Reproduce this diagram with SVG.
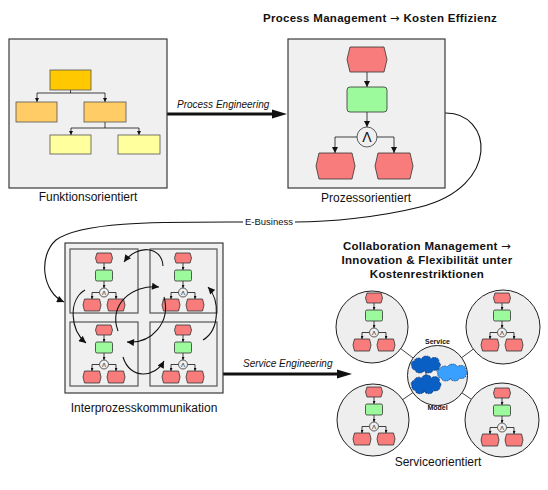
<svg xmlns="http://www.w3.org/2000/svg" xmlns:xlink="http://www.w3.org/1999/xlink" width="548" height="490" viewBox="0 0 548 490">
<style>
text{font-family:"Liberation Sans","DejaVu Sans",sans-serif;fill:#111}
.lbl{font-size:12px;text-anchor:middle}
.ttl{font-size:11.5px;font-weight:bold;text-anchor:middle;letter-spacing:0.3px}
.arr{font-family:"DejaVu Sans",sans-serif;font-weight:normal}
.it{font-size:10px;font-style:italic}
.box{fill:#f0f0f0;stroke:#3a3a3a;stroke-width:1.2}
.q{fill:#f0f0f0;stroke:#555;stroke-width:1.2}
.ev{fill:#f87c7c;stroke:#333;stroke-width:0.8}
.fn{fill:#9cf99c;stroke:#333;stroke-width:0.8}
.op{fill:#f0f0f0;stroke:#333;stroke-width:0.8}
.ln{fill:none;stroke:#111;stroke-width:0.8}
.cv{fill:none;stroke:#111;stroke-width:1.1}
.sc{fill:#eeeeee;stroke:#222;stroke-width:1}
.cl1{fill:#0a5fc4;stroke:#0a2a60;stroke-width:0.6;stroke-dasharray:1.5 0.8}
.cl2{fill:#3aa0ff;stroke:#0a2a60;stroke-width:0.6;stroke-dasharray:1.5 0.8}
</style>
<defs>
<marker id="a1" viewBox="0 0 10 10" refX="10" refY="5" markerWidth="4" markerHeight="4" markerUnits="userSpaceOnUse" orient="auto"><path d="M0,0 L10,5 L0,10 z" fill="#111"/></marker>
<marker id="a2" viewBox="0 0 10 10" refX="10" refY="5" markerWidth="7" markerHeight="6" markerUnits="userSpaceOnUse" orient="auto"><path d="M0,0 L10,5 L0,10 z" fill="#111"/></marker>
<marker id="a3" viewBox="0 0 10 10" refX="10" refY="5" markerWidth="8" markerHeight="7" markerUnits="userSpaceOnUse" orient="auto"><path d="M0,0 L10,5 L0,10 z" fill="#111"/></marker>
<marker id="a4" viewBox="0 0 10 10" refX="10" refY="5" markerWidth="3.5" markerHeight="3" markerUnits="userSpaceOnUse" orient="auto"><path d="M0,0 L10,5 L0,10 z" fill="#111"/></marker>
<g id="mp">
<line class="ln" x1="0" y1="10" x2="0" y2="17" marker-end="url(#a4)"/>
<line class="ln" x1="0" y1="28" x2="0" y2="35" marker-end="url(#a4)"/>
<path class="ln" d="M-4.5,39.5 H-12 V46" marker-end="url(#a4)"/>
<path class="ln" d="M4.5,39.5 H12 V46" marker-end="url(#a4)"/>
<polygon class="ev" points="-7,0 7,0 8.5,5 7,10 -7,10 -8.5,5"/>
<rect class="fn" x="-8.5" y="17" width="17" height="11" rx="1.5"/>
<circle class="op" cx="0" cy="39.5" r="4.5"/>
<text x="0" y="42" style="font-size:6px;text-anchor:middle">Λ</text>
<polygon class="ev" points="-19.5,46 -4.5,46 -3,52 -4.5,58 -19.5,58 -21,52"/>
<polygon class="ev" points="4.5,46 19.5,46 21,52 19.5,58 4.5,58 3,52"/>
</g>
<path id="cloud" d="M0,0 a3,3 0 0 1 2,-5 a4,3 0 0 1 7,-2 a4,3 0 0 1 8,0 a4,3 0 0 1 7,3 a3,3 0 0 1 1,5 a4,3 0 0 1 -6,3 a4,3 0 0 1 -8,0 a4,3 0 0 1 -8,0 a3,3 0 0 1 -3,-4 z"/>
</defs>

<g id="connectors">
<line x1="167" y1="114" x2="274" y2="114" stroke="#111" stroke-width="3"/>
<polygon points="287,114 272,109.5 272,118.5" fill="#111"/>
<text class="it" x="177" y="108">Process Engineering</text>
<path class="cv" d="M445,113 C492,112 502,186 420,207 C380,217 330,222 295,222"/>
<path class="cv" d="M243,222 C160,222 82,221 56,240 C38,256 42,292 64,302" marker-end="url(#a3)"/>
<text x="245" y="225" style="font-size:9.5px">E-Business</text>
<line x1="223" y1="374" x2="339" y2="374" stroke="#111" stroke-width="3"/>
<polygon points="352,374 337,369.5 337,378.5" fill="#111"/>
<text class="it" x="243" y="367">Service Engineering</text>
</g>

<g id="title1"><text class="ttl" x="380" y="22">Process Management <tspan class="arr">→</tspan> Kosten Effizienz</text></g>

<g id="funktionsorientiert">
<rect class="box" x="9" y="39" width="158" height="149"/>
<path class="ln" d="M70.5,90 V93 M37,93 H105 M71,128 H139 M105,122 V128"/>
<line class="ln" x1="37" y1="93" x2="37" y2="102" marker-end="url(#a1)"/>
<line class="ln" x1="105" y1="93" x2="105" y2="102" marker-end="url(#a1)"/>
<line class="ln" x1="71" y1="128" x2="71" y2="135" marker-end="url(#a1)"/>
<line class="ln" x1="139" y1="128" x2="139" y2="135" marker-end="url(#a1)"/>
<rect x="50" y="70" width="41" height="20" fill="#ffc800" stroke="#555" stroke-width="0.8"/>
<rect x="16" y="102" width="41" height="20" fill="#ffcc66" stroke="#555" stroke-width="0.8"/>
<rect x="84" y="102" width="42" height="20" fill="#ffcc66" stroke="#555" stroke-width="0.8"/>
<rect x="50" y="135" width="41" height="19" fill="#ffff9e" stroke="#555" stroke-width="0.8"/>
<rect x="118" y="135" width="42" height="19" fill="#ffff9e" stroke="#555" stroke-width="0.8"/>
<text class="lbl" x="88" y="201">Funktionsorientiert</text>
</g>

<g id="prozessorientiert">
<rect class="box" x="288" y="39" width="157" height="149"/>
<line class="ln" x1="367" y1="72" x2="367" y2="87" marker-end="url(#a2)"/>
<line class="ln" x1="367" y1="112" x2="367" y2="127" marker-end="url(#a2)"/>
<path class="ln" d="M357,137 H335 V153" marker-end="url(#a2)"/>
<path class="ln" d="M377,137 H394 V153" marker-end="url(#a2)"/>
<polygon class="ev" points="350,47 384,47 387,59.5 384,72 350,72 347,59.5"/>
<rect class="fn" x="347" y="87" width="40" height="25" rx="3"/>
<circle class="op" cx="367" cy="137" r="10"/>
<text x="367" y="142" style="font-size:14px;text-anchor:middle">Λ</text>
<polygon class="ev" points="319,153 352,153 355,166 352,179 319,179 316,166"/>
<polygon class="ev" points="378,153 410,153 413,166 410,179 378,179 375,166"/>
<text class="lbl" x="366" y="202">Prozessorientiert</text>
</g>

<g id="interprozess">
<rect class="box" x="65" y="243" width="158" height="150"/>
<rect class="q" x="70" y="249" width="68" height="64"/>
<rect class="q" x="150" y="249" width="67" height="64"/>
<rect class="q" x="70" y="322" width="68" height="64"/>
<rect class="q" x="150" y="322" width="67" height="64"/>
<use xlink:href="#mp" href="#mp" transform="translate(104,253)"/>
<use xlink:href="#mp" href="#mp" transform="translate(183,253)"/>
<use xlink:href="#mp" href="#mp" transform="translate(104,325)"/>
<use xlink:href="#mp" href="#mp" transform="translate(183,325)"/>
<path class="cv" d="M163,266 C162,246 137,244 124,262" marker-end="url(#a3)"/>
<path class="cv" d="M85,290 C68,300 70,330 86,343" marker-end="url(#a3)"/>
<path class="cv" d="M203,340 C220,330 220,300 208,287" marker-end="url(#a3)"/>
<path class="cv" d="M123,357 C130,380 155,378 164,361" marker-end="url(#a3)"/>
<path class="cv" d="M118,331 C108,305 132,284 159,287" marker-end="url(#a3)"/>
<path class="cv" d="M164,297 C171,322 152,344 127,342" marker-end="url(#a3)"/>
<text class="lbl" x="144" y="412">Interprozesskommunikation</text>
</g>

<g id="title2">
<text class="ttl" x="427" y="250">Collaboration Management <tspan class="arr">→</tspan></text>
<text class="ttl" x="427" y="264">Innovation &amp; Flexibilität unter</text>
<text class="ttl" x="427" y="278">Kostenrestriktionen</text>
</g>

<g id="serviceorientiert">
<path class="ln" d="M437,376 L372,327 M437,376 L503,327 M437,376 L373,420 M437,376 L502,420" stroke="#222"/>
<g id="svc-tl"><circle class="sc" cx="372" cy="327" r="36"/><use xlink:href="#mp" href="#mp" transform="translate(374,293)"/></g>
<g id="svc-tr"><circle class="sc" cx="503" cy="327" r="37"/><use xlink:href="#mp" href="#mp" transform="translate(502,293)"/></g>
<g id="svc-bl"><circle class="sc" cx="373" cy="420" r="36"/><use xlink:href="#mp" href="#mp" transform="translate(374,387)"/></g>
<g id="svc-br"><circle class="sc" cx="502" cy="420" r="37"/><use xlink:href="#mp" href="#mp" transform="translate(502,388)"/></g>
<g id="service-model">
<circle class="sc" cx="437.5" cy="375.5" r="30"/>
<line x1="426" y1="368" x2="426" y2="380" stroke="#555" stroke-width="1.2"/>
<use xlink:href="#cloud" href="#cloud" class="cl1" transform="translate(412,366) scale(1.1,1)"/>
<use xlink:href="#cloud" href="#cloud" class="cl2" transform="translate(438,374) scale(1.12,1)"/>
<use xlink:href="#cloud" href="#cloud" class="cl1" transform="translate(412,386) scale(1.12,1.1)"/>
<text x="437.5" y="344" style="font-size:7px;font-weight:bold;text-anchor:middle">Service</text>
<text x="437.5" y="410" style="font-size:7px;font-weight:bold;text-anchor:middle">Model</text>
</g>
<text class="lbl" x="438" y="466">Serviceorientiert</text>
</g>
</svg>
